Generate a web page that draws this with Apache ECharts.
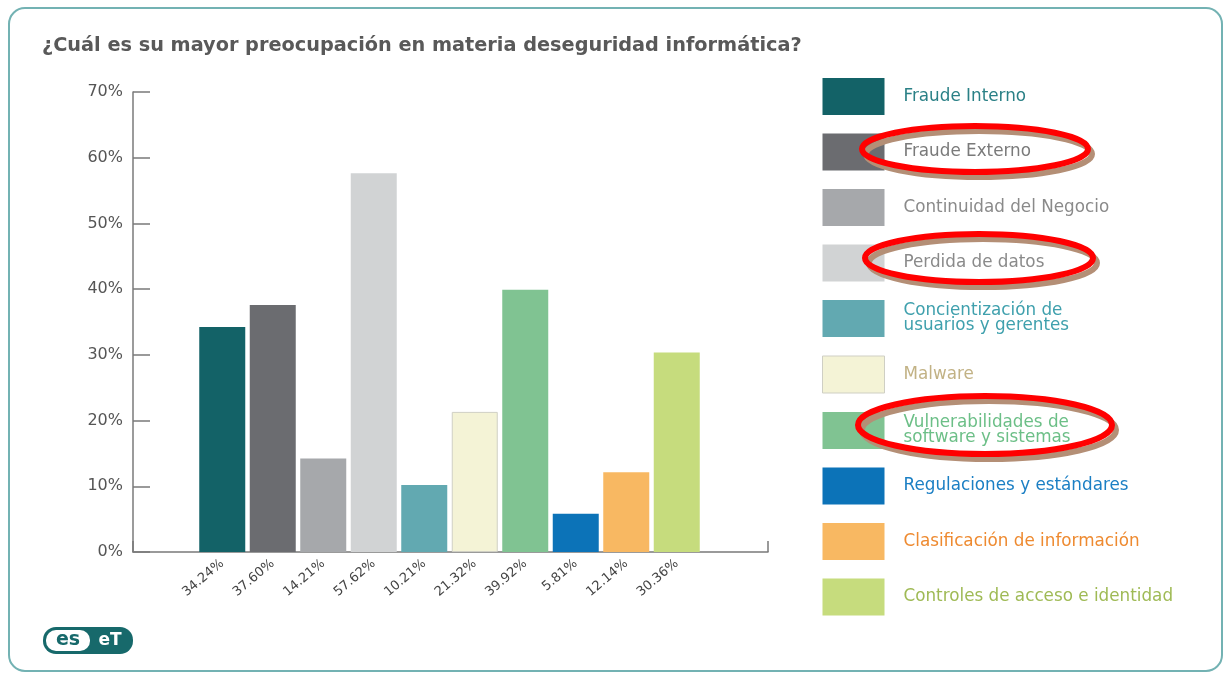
<!DOCTYPE html>
<html>
<head>
<meta charset="utf-8">
<title>Preocupación en seguridad informática</title>
<script src="https://cdn.jsdelivr.net/npm/echarts@6/dist/echarts.min.js"></script>
<style>
  html, body { margin: 0; padding: 0; background: #fff; }
  #chart { width: 1225px; height: 673px; }
</style>
</head>
<body>
<div id="chart"></div>
<script>
// datos
const categories = [
  'Fraude Interno',
  'Fraude Externo',
  'Continuidad del Negocio',
  'Perdida de datos',
  'Concientización de\nusuarios y gerentes',
  'Malware',
  'Vulnerabilidades de\nsoftware y sistemas',
  'Regulaciones y estándares',
  'Clasificación de información',
  'Controles de acceso e identidad'
];
const values = [34.24, 37.60, 14.21, 57.62, 10.21, 21.32, 39.92, 5.81, 12.14, 30.36];
const valueLabels = ['34.24%', '37.60%', '14.21%', '57.62%', '10.21%', '21.32%', '39.92%', '5.81%', '12.14%', '30.36%'];
const yTicks = [0, 10, 20, 30, 40, 50, 60, 70];

const barColors = ['#136267', '#6b6c70', '#a6a8ab', '#d1d3d4', '#62a9b1', '#f4f3d6', '#80c392', '#0c73b8', '#f8b862', '#c6dc7d'];
const textColors = ['#2a8086', '#7a7a7a', '#8a8a8a', '#8a8a8a', '#3fa0ad', '#c2b285', '#6cbf87', '#1b7fc4', '#ee8a30', '#9fba55'];

const chart = echarts.init(document.getElementById('chart'));

const series = categories.map(function (name, i) {
  return {
    name: name,
    type: 'bar',
    stack: 'todo',
    xAxisIndex: 0,
    yAxisIndex: 0,
    barWidth: 46,
    data: values.map(function (v, j) { return j === i ? v : '-'; }),
    itemStyle: {
      color: barColors[i],
      borderColor: i === 5 ? '#cfcfc4' : barColors[i],
      borderWidth: i === 5 ? 1 : 0
    }
  };
});

const axisGray = '#7a7a7a';

function ellipseMark(cx, cy, rx, ry) {
  return [
    {
      type: 'ellipse', z: 100,
      shape: { cx: cx + 4, cy: cy + 5, rx: rx, ry: ry },
      style: { fill: 'none', stroke: '#b48f76', lineWidth: 6 }
    },
    {
      type: 'ellipse', z: 101,
      shape: { cx: cx, cy: cy, rx: rx, ry: ry },
      style: { fill: 'none', stroke: '#ff0000', lineWidth: 6 }
    }
  ];
}

const option = {
  backgroundColor: '#fff',
  animation: false,
  textStyle: { fontFamily: 'DejaVu Sans' },
  title: {
    text: '¿Cuál es su mayor preocupación en materia deseguridad informática?',
    left: 42,
    top: 36,
    padding: 0,
    textStyle: { fontFamily: 'DejaVu Sans', fontSize: 19.3, fontWeight: 'bold', color: '#595959' }
  },
  grid: [
    { left: 197, right: 523, top: 92, bottom: 121 },
    { left: 133, right: 457, top: 92, bottom: 121 }
  ],
  xAxis: [
    {
      type: 'category',
      gridIndex: 0,
      data: valueLabels,
      axisLine: { show: false },
      axisTick: { show: false },
      axisLabel: { rotate: 40, margin: 10, color: '#444', fontSize: 13, interval: 0 }
    },
    {
      type: 'value',
      gridIndex: 1,
      min: 0, max: 1, interval: 1,
      axisLine: { show: true, lineStyle: { color: axisGray, width: 1.5 } },
      axisTick: { show: true, inside: true, length: 11, lineStyle: { color: axisGray, width: 1.5 } },
      axisLabel: { show: false },
      splitLine: { show: false }
    }
  ],
  yAxis: [
    {
      type: 'value',
      gridIndex: 0,
      min: 0, max: 70, interval: 10,
      show: false
    },
    {
      type: 'value',
      gridIndex: 1,
      min: yTicks[0], max: yTicks[yTicks.length - 1], interval: 10,
      axisLine: { show: true, lineStyle: { color: axisGray, width: 1.5 } },
      axisTick: { show: true, inside: true, length: 17, lineStyle: { color: axisGray, width: 1.5 } },
      axisLabel: { formatter: '{value}%', color: '#555', fontSize: 16, margin: 10 },
      splitLine: { show: false }
    }
  ],
  legend: {
    orient: 'vertical',
    left: 822,
    top: 78,
    padding: 0,
    itemWidth: 62,
    itemHeight: 37,
    itemGap: 18.5,
    icon: 'rect',
    selectedMode: false,
    textStyle: { fontSize: 16.8, lineHeight: 15, padding: [0, 0, 0, 14] },
    data: categories.map(function (name, i) {
      return {
        name: name,
        textStyle: { color: textColors[i] },
        itemStyle: i === 5 ? { borderColor: '#cfcfc4', borderWidth: 1 } : {}
      };
    })
  },
  graphic: [
    {
      type: 'rect', z: -10, silent: true,
      shape: { x: 9, y: 8, width: 1213, height: 663, r: 16 },
      style: { fill: 'none', stroke: '#73b2b3', lineWidth: 2 }
    },
    {
      type: 'group', left: 43, top: 627,
      children: [
        { type: 'rect', shape: { x: 0, y: 0, width: 90, height: 27, r: 13 }, style: { fill: '#17696b' } },
        { type: 'rect', shape: { x: 3, y: 3, width: 44, height: 21, r: 10 }, style: { fill: '#fff' } },
        { type: 'text', style: { x: 25, y: 13.5, text: 'es', align: 'center', verticalAlign: 'middle', fill: '#17696b', font: 'bold 19px "DejaVu Sans"' } },
        { type: 'text', style: { x: 67, y: 14, text: 'eT', align: 'center', verticalAlign: 'middle', fill: '#fff', font: 'bold 17px "DejaVu Sans"' } }
      ]
    }
  ].concat(ellipseMark(975, 149, 113, 23), ellipseMark(979, 258, 114, 24), ellipseMark(985, 425, 127, 29)),
  series: series
};

chart.setOption(option);
</script>
</body>
</html>
